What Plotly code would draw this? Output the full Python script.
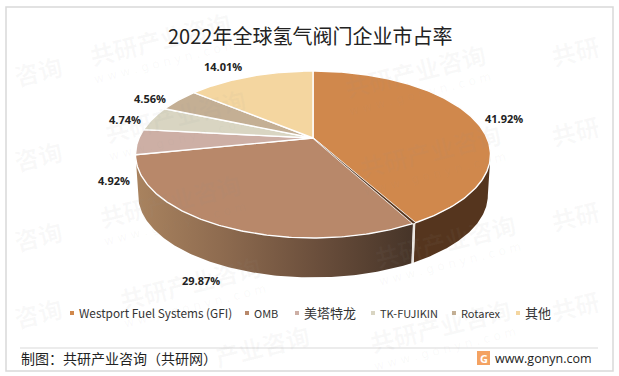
import math
import plotly.graph_objects as go

names = ["Westport Fuel Systems (GFI)", "OMB", "美塔特龙", "TK-FUJIKIN", "Rotarex", "其他"]
shares = [41.92, 29.87, 4.92, 4.74, 4.56, 14.01]
value_labels = ["41.92%", "29.87%", "4.92%", "4.74%", "4.56%", "14.01%"]
colors = ["#D0884C", "#B8886A", "#CDAFA5", "#D9D5C2", "#C4AF94", "#F4D6A0"]

title = "2022年全球氢气阀门企业市占率"
source = "制图：共研产业咨询（共研网）"
site = "www.gonyn.com"
wm_main = "共研产业咨询"
wm_sub = "w w w . g o n y n . c o m"

# view of the disc
AX, AY = 313.0, 138.0
R, H, K = 174.0, 80.2, 0.1976
DEPTH, SHRINK = 41.0, 0.985
WALL_DARK = "#55351E"
LINE = "#FFFFFF"


def project(theta, lower=False):
    t = math.radians(theta)
    u, v = math.sin(t), -math.cos(t)
    s = 1 / (1 - K * v)
    f = SHRINK if lower else 1.0
    return AX + R * u * s * f, AY + (DEPTH if lower else 0) + H * v * s * f


def arc(a, b, lower=False, n=160):
    pts = [project(a + (b - a) * i / n, lower) for i in range(n + 1)]
    return [p[0] for p in pts], [p[1] for p in pts]


fig = go.Figure()


def poly(xs, ys, fill, line_w=1.0, line_c=LINE, grad=None):
    kw = dict(x=xs, y=ys, mode="lines", fill="toself", hoverinfo="skip",
              showlegend=False, line=dict(color=line_c, width=line_w))
    if grad:
        kw["fillgradient"] = grad
    else:
        kw["fillcolor"] = fill
    fig.add_trace(go.Scatter(**kw))


total = sum(shares)
bounds = [0.0]
for v in shares:
    bounds.append(bounds[-1] + v / total * 360)

GAP = 0.8
SEAM = bounds[1]
RIGHT_EXT = math.degrees(math.acos(-K))
LEFT_EXT = 360 - RIGHT_EXT

# walls
x1, y1 = arc(RIGHT_EXT, SEAM)
x2, y2 = arc(RIGHT_EXT, SEAM, True)
poly(x1 + x2[::-1], y1 + y2[::-1], WALL_DARK, 0, WALL_DARK)
x1, y1 = arc(SEAM + GAP, LEFT_EXT)
x2, y2 = arc(SEAM + GAP, LEFT_EXT, True)
wall_grad = dict(type="horizontal", start=x1[-1], stop=x1[0],
                 colorscale=[[0, "#A9835F"], [0.3, "#8F6C50"], [0.65, "#6B4F3C"], [1, "#463428"]])
poly(x1 + x2[::-1], y1 + y2[::-1], None, 0, "#7A5C45", wall_grad)

# seam between the two walls
sa, sb = project(SEAM + GAP / 2), project(SEAM + GAP / 2, True)
fig.add_trace(go.Scatter(x=[sa[0], sb[0]], y=[sa[1], sb[1]], mode="lines", hoverinfo="skip",
                         showlegend=False, line=dict(color="#EDE8E2", width=2)))

# top slices
for i in range(len(shares)):
    a = bounds[i] + (GAP if i == 1 else 0)
    xs, ys = arc(a, bounds[i + 1])
    poly([AX] + xs + [AX], [AY] + ys + [AY], colors[i], 1.4)

# dark sliver showing the side of the first slice
xs, ys = arc(SEAM, SEAM + GAP, n=4)
poly([AX] + xs + [AX], [AY] + ys + [AY], WALL_DARK, 0, WALL_DARK)

# legend swatches
legend_x = [72, 247, 297, 373, 454, 518]
fig.add_trace(go.Scatter(x=legend_x, y=[313] * 6, mode="markers", hoverinfo="skip", showlegend=False,
                         marker=dict(symbol="square", size=4, color=colors)))

CJK = "Noto Sans CJK SC"
ann = []
WM = "rgba(150,150,150,0.06)"

# watermarks: text shown at each spot (edges only show the part that fits)
stamps = [(160, 38, wm_main), (175, 115, wm_main), (170, 200, wm_main), (190, 282, wm_main), (262, 345, "产业咨询"),
          (415, 70, wm_main), (430, 150, wm_main), (445, 240, wm_main), (440, 325, wm_main),
          (575, 50, "共研"), (575, 130, "共研"), (575, 215, "共研"), (575, 305, "共研"),
          (38, 70, "咨询"), (38, 155, "咨询"), (38, 235, "咨询"), (38, 312, "咨询")]
for sx, sy, txt in stamps:
    ann.append(dict(x=sx, y=sy, text="<b>" + txt + "</b>", font=dict(family=CJK, size=24, color=WM),
                    textangle=-14, showarrow=False, xref="x", yref="y"))
    if txt == wm_main:
        ann.append(dict(x=sx + 5, y=sy + 24, text=wm_sub, font=dict(family="DejaVu Sans", size=12, color=WM),
                        textangle=-14, showarrow=False, xref="x", yref="y"))

# value labels
label_pos = [(504, 118), (201, 280), (114, 180), (125, 119), (150, 98), (223, 66)]
for (lx, ly), t in zip(label_pos, value_labels):
    ann.append(dict(x=lx, y=ly, text="<b>" + t + "</b>", showarrow=False, xref="x", yref="y",
                    font=dict(family="Open Sans", size=11, color="#222222")))

# legend text
for lx, n in zip(legend_x, names):
    is_cjk = n in ("美塔特龙", "其他")
    size = 13 if is_cjk else (11.8 if n == names[0] else 11)
    ann.append(dict(x=lx + 5, y=312.5, text=n, showarrow=False, xanchor="left", xref="x", yref="y",
                    font=dict(family=CJK, size=size, color="#333333")))

# title and footer
ann.append(dict(x=310, y=35, text=title, showarrow=False, xref="x", yref="y",
                font=dict(family=CJK, size=20, color="#222222")))
ann.append(dict(x=19, y=357.5, text=source, showarrow=False, xanchor="left", xref="x", yref="y",
                font=dict(family=CJK, size=14, color="#222222")))
ann.append(dict(x=493, y=358, text=site, showarrow=False, xanchor="left", xref="x", yref="y",
                font=dict(family="Open Sans", size=12.5, color="#222222")))
ann.append(dict(x=483.5, y=358, text="<b>G</b>", showarrow=False, xref="x", yref="y",
                font=dict(family="Open Sans", size=11, color="#FFFFFF")))

shapes = [
    dict(type="rect", x0=6, y0=7, x1=613, y1=371, line=dict(color="#D9D9D9", width=1.5), layer="below"),
    dict(type="line", x0=20, y0=348, x1=598, y1=348, line=dict(color="#D9D9D9", width=1), layer="below"),
    dict(type="rect", x0=477, y0=351, x1=490, y1=365, line=dict(width=0), fillcolor="#F4A262", layer="below"),
]

fig.update_layout(
    width=619, height=376, margin=dict(l=0, r=0, t=0, b=0),
    paper_bgcolor="#FFFFFF", plot_bgcolor="#FFFFFF", showlegend=False,
    xaxis=dict(range=[0, 619], visible=False, fixedrange=True),
    yaxis=dict(range=[376, 0], visible=False, fixedrange=True),
    annotations=ann, shapes=shapes,
)
fig.write_html("out.html", config={"displayModeBar": False},
               post_script="document.body.style.margin='0';document.documentElement.style.overflow='hidden';")
